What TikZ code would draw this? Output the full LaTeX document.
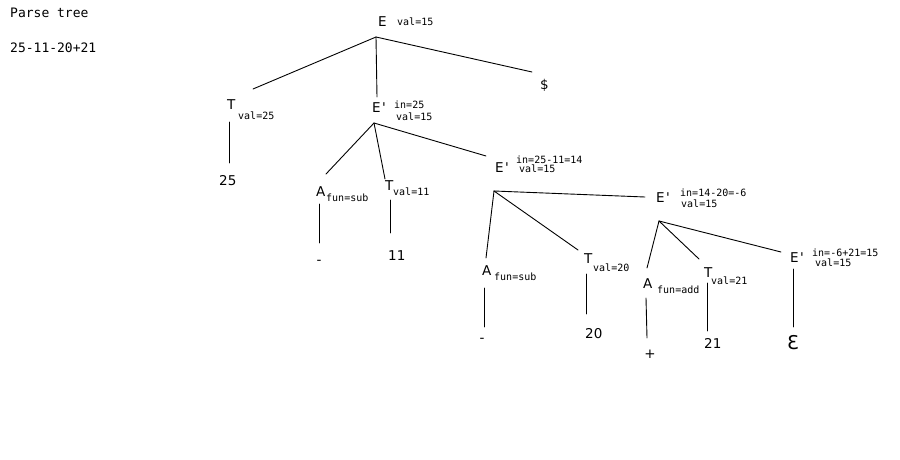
\documentclass[tikz,border=0pt]{standalone}
\usepackage{fontspec}
\setmainfont{DejaVu Sans}
\newfontfamily\monofont{DejaVu Sans Mono}
\newcommand{\Ep}{E\kern1.5pt\textquotesingle}
\begin{document}
\begin{tikzpicture}[x=1pt,y=-1pt,
  sym/.style={inner sep=0pt,anchor=base west,font=\fontsize{13.5}{13.5}\selectfont},
  attr/.style={inner sep=0pt,anchor=base west,font=\monofont\fontsize{10}{10}\selectfont},
  title/.style={inner sep=0pt,anchor=base west,font=\monofont\fontsize{13}{13}\selectfont},
  edge/.style={line width=0.9pt,line cap=round}]
\useasboundingbox (0,0) rectangle (900,460);
\fill[white] (0,0) rectangle (900,460);

% heading
\node[title] (ttl) at (10,18) {Parse tree};
\node[title] (expr) at (10,53) {25-11-20+21};

% root E
\node[sym] (E) at (378,27) {E};
\node[attr] (Ev) at (397,26) {val=15};

% first level
\node[sym] (T1) at (227,110) {T};
\node[attr] (T1v) at (238,119) {val=25};
\node[sym] (E1) at (372,113) {\Ep};
\node[attr] (E1i) at (394,109) {in=25};
\node[attr] (E1v) at (396,120) {val=15};
\node[sym] (dollar) at (540,89) {\$};
\node[sym] (n25) at (219,185) {25};

% second level
\node[sym] (A1) at (316,196) {A};
\node[attr] (A1f) at (326,201) {fun=sub};
\node[sym] (T2) at (385,190) {T};
\node[attr] (T2v) at (393,195) {val=11};
\node[sym] (E2) at (495,172) {\Ep};
\node[attr] (E2i) at (516,163) {in=25-11=14};
\node[attr] (E2v) at (519,172) {val=15};
\node[sym,anchor=center] (m1) at (319,262) {-};
\node[sym] (n11) at (388,260) {11};

% third level
\node[sym] (A2) at (482,275) {A};
\node[attr] (A2f) at (494,280) {fun=sub};
\node[sym] (T3) at (584,263) {T};
\node[attr] (T3v) at (593,271) {val=20};
\node[sym] (E3) at (656,202) {\Ep};
\node[attr] (E3i) at (680,196) {in=14-20=-6};
\node[attr] (E3v) at (681,207) {val=15};
\node[sym,anchor=center] (m2) at (482,340) {-};
\node[sym] (n20) at (585,338) {20};

% fourth level
\node[sym] (A3) at (643,288) {A};
\node[attr] (A3f) at (657,293) {fun=add};
\node[sym] (T4) at (704,277) {T};
\node[attr] (T4v) at (711,284) {val=21};
\node[sym] (E4) at (790,262) {\Ep};
\node[attr] (E4i) at (812,256) {in=-6+21=15};
\node[attr] (E4v) at (815,266) {val=15};
\node[sym,anchor=center] (plus) at (650,354) {+};
\node[sym] (n21) at (704,348) {21};
\node[sym,anchor=center,font=\fontsize{19}{19}\selectfont] (eps) at (793,343) {Ɛ};

% branch points and line ends
\coordinate (r0) at (376,37);
\coordinate (r0a) at (253,89);
\coordinate (r0b) at (377,97);
\coordinate (r0c) at (532,72);
\coordinate (t1a) at (229,122);
\coordinate (t1b) at (229,163);
\coordinate (r1) at (374,123);
\coordinate (r1a) at (326,174);
\coordinate (r1b) at (385,179);
\coordinate (r1c) at (486,156);
\coordinate (a1a) at (319,204);
\coordinate (a1b) at (319,243);
\coordinate (t2a) at (390,200);
\coordinate (t2b) at (390,233);
\coordinate (r2) at (494,191);
\coordinate (r2a) at (486,258);
\coordinate (r2b) at (578,250);
\coordinate (r2c) at (645,197);
\coordinate (a2a) at (484,288);
\coordinate (a2b) at (484,327);
\coordinate (t3a) at (586,274);
\coordinate (t3b) at (586,314);
\coordinate (r3) at (659,221);
\coordinate (r3a) at (647,268);
\coordinate (r3b) at (699,259);
\coordinate (r3c) at (781,252);
\coordinate (a3a) at (646,298);
\coordinate (a3b) at (647,338);
\coordinate (t4a) at (707,283);
\coordinate (t4b) at (707,331);
\coordinate (e4a) at (793,269);
\coordinate (e4b) at (793,327);

% tree edges
\draw[edge] (r0) -- (r0a);
\draw[edge] (r0) -- (r0b);
\draw[edge] (r0) -- (r0c);
\draw[edge] (t1a) -- (t1b);
\draw[edge] (r1) -- (r1a);
\draw[edge] (r1) -- (r1b);
\draw[edge] (r1) -- (r1c);
\draw[edge] (a1a) -- (a1b);
\draw[edge] (t2a) -- (t2b);
\draw[edge] (r2) -- (r2a);
\draw[edge] (r2) -- (r2b);
\draw[edge] (r2) -- (r2c);
\draw[edge] (a2a) -- (a2b);
\draw[edge] (t3a) -- (t3b);
\draw[edge] (r3) -- (r3a);
\draw[edge] (r3) -- (r3b);
\draw[edge] (r3) -- (r3c);
\draw[edge] (a3a) -- (a3b);
\draw[edge] (t4a) -- (t4b);
\draw[edge] (e4a) -- (e4b);
\end{tikzpicture}
\end{document}
